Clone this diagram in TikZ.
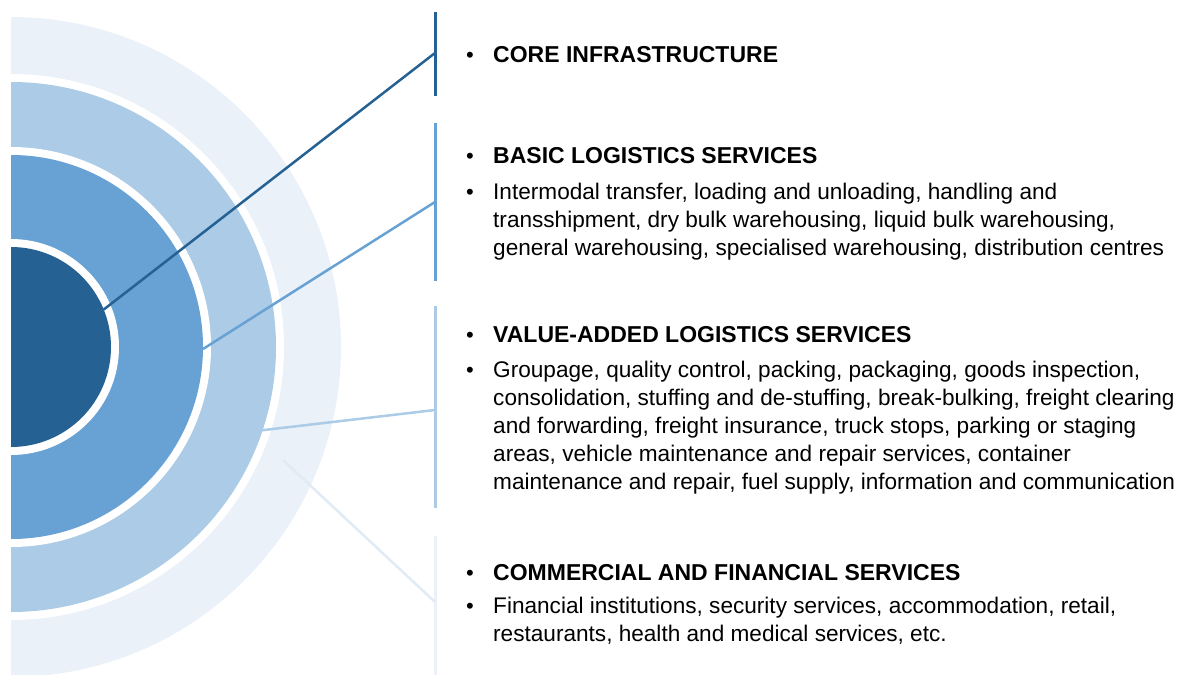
\documentclass[tikz,border=0pt]{standalone}
\usepackage{fontspec}
\setmainfont{Liberation Sans}
\usetikzlibrary{calc}

\definecolor{ringA}{RGB}{37,97,146}
\definecolor{ringB}{RGB}{104,162,212}
\definecolor{ringC}{RGB}{172,203,230}
\definecolor{ringD}{RGB}{234,241,249}
\definecolor{lineD}{RGB}{224,235,246}

\tikzset{
  head/.style={anchor=base west, inner sep=0pt, font=\fontsize{23}{28}\selectfont\bfseries},
  body/.style={anchor=north west, inner sep=0pt, align=left, font=\fontsize{22.6}{28}\selectfont},
  dot/.style={anchor=base, inner sep=0pt, font=\fontsize{22}{28}\selectfont},
  bar/.style={line width=3pt},
  leader/.style={line width=2.5pt},
}

\begin{document}
\begin{tikzpicture}[x=1pt,y=-1pt]
\useasboundingbox (0,0) rectangle (1184,675);

%% rings
\coordinate (c) at (11,347);
\begin{scope}
\clip (11,0) rectangle (1184,675);
\fill[ringD] (c) circle (330pt);
\fill[white] (c) circle (273pt);
\fill[ringC] (c) circle (265pt);
\fill[white] (c) circle (200pt);
\fill[ringB] (c) circle (192pt);
\fill[white] (c) circle (108pt);
\fill[ringA] (c) circle (100pt);
\end{scope}

%% bars
\coordinate (core-top) at (435,12);   \coordinate (core-bot) at (435,96);
\coordinate (basic-top) at (435,123); \coordinate (basic-bot) at (435,281);
\coordinate (value-top) at (435,306); \coordinate (value-bot) at (435,508);
\coordinate (comm-top) at (435,536);  \coordinate (comm-bot) at (435,675);
\draw[bar, ringA] (core-top) -- (core-bot);
\draw[bar, ringB] (basic-top) -- (basic-bot);
\draw[bar, ringC] (value-top) -- (value-bot);
\draw[bar, ringD] (comm-top) -- (comm-bot);

%% leader lines
\coordinate (core-in) at ($(c)+(22:100pt)$);
\coordinate (basic-in) at ($(c)+(-0.6:192pt)$);
\coordinate (value-in) at ($(c)+(-18.5:263pt)$);
\coordinate (comm-in) at ($(c)+(-22.6:295pt)$);
\coordinate (core-out) at (435,53);
\coordinate (basic-out) at (435,202);
\coordinate (value-out) at (435,410);
\coordinate (comm-out) at (435,602);
\draw[leader, lineD] (comm-in) -- (comm-out);
\draw[leader, ringC] (value-in) -- (value-out);
\draw[leader, ringB] (basic-in) -- (basic-out);
\draw[leader, ringA] (core-in) -- (core-out);

%% core infrastructure
\node[dot] (core-dot) at (470,62) {•};
\node[head] (core) at (493,62) {CORE INFRASTRUCTURE};

%% basic logistics (body text top sits 16.4 above its first baseline)
\node[dot] (basic-dot) at (470,163) {•};
\node[head] (basic) at (493,163) {BASIC LOGISTICS SERVICES};
\node[dot] (basic-dot2) at (470,199) {•};
\node[body] (basic-text) at (493,182.6) {Intermodal transfer, loading and unloading, handling and\\
  transshipment, dry bulk warehousing, liquid bulk warehousing,\\
  general warehousing, specialised warehousing, distribution centres};

%% value-added logistics
\node[dot] (value-dot) at (470,342) {•};
\node[head] (value) at (493,342) {VALUE-ADDED LOGISTICS SERVICES};
\node[dot] (value-dot2) at (470,377) {•};
\node[body] (value-text) at (493,360.6) {Groupage, quality control, packing, packaging, goods inspection,\\
  consolidation, stuffing and de-stuffing, break-bulking, freight clearing\\
  and forwarding, freight insurance, truck stops, parking or staging\\
  areas, vehicle maintenance and repair services, container\\
  maintenance and repair, fuel supply, information and communication};

%% commercial and financial
\node[dot] (comm-dot) at (470,580) {•};
\node[head] (comm) at (493,580) {COMMERCIAL AND FINANCIAL SERVICES};
\node[dot] (comm-dot2) at (470,613) {•};
\node[body] (comm-text) at (493,596.6) {Financial institutions, security services, accommodation, retail,\\
  restaurants, health and medical services, etc.};

\end{tikzpicture}
\end{document}
